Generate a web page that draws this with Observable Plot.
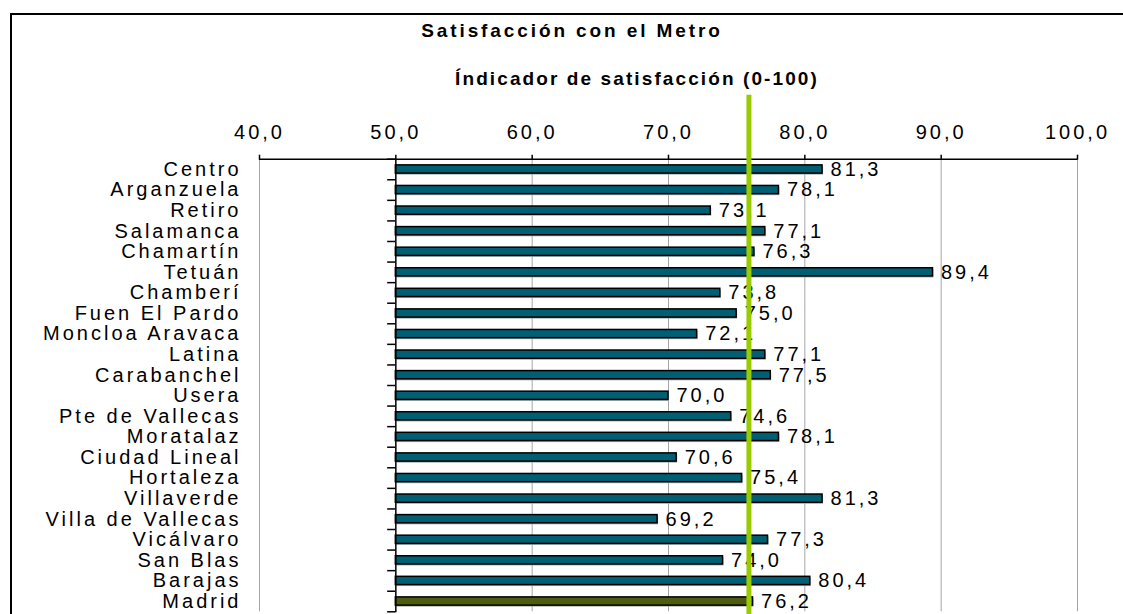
<!DOCTYPE html>
<html><head><meta charset="utf-8">
<script src="https://cdn.jsdelivr.net/npm/d3@7"></script>
<script src="https://cdn.jsdelivr.net/npm/@observablehq/plot@0.6"></script>
<style>
body{margin:0;background:#fff;}
#wrap{position:relative;width:1123px;height:614px;overflow:hidden;font-family:"Liberation Sans",Arial,sans-serif;}
#chart{position:absolute;left:0;top:0;}
#frame{position:absolute;left:10px;top:13px;right:-10px;bottom:-10px;border-top:2.5px solid #000;border-left:2.5px solid #000;pointer-events:none;}
.t{position:absolute;left:0;text-align:center;font-weight:bold;font-size:19px;line-height:19px;color:#000;white-space:nowrap;}
#chart svg text{letter-spacing:3px;}
</style></head><body>
<div id="wrap"><div id="chart"></div><div id="frame"></div>
<div class="t" id="title" style="width:1144px;top:21px;letter-spacing:2.9px">Satisfacción con el Metro</div>
<div class="t" id="sub" style="width:1274px;top:69px;letter-spacing:2.1px">Índicador de satisfacción (0-100)</div>
</div>
<script>
const districts = ["Centro","Arganzuela","Retiro","Salamanca","Chamartín","Tetuán","Chamberí","Fuen El Pardo","Moncloa Aravaca","Latina","Carabanchel","Usera","Pte de Vallecas","Moratalaz","Ciudad Lineal","Hortaleza","Villaverde","Villa de Vallecas","Vicálvaro","San Blas","Barajas","Madrid"];
const values = [81.3,78.1,73.1,77.1,76.3,89.4,73.8,75.0,72.1,77.1,77.5,70.0,74.6,78.1,70.6,75.4,81.3,69.2,77.3,74.0,80.4,76.2];
const xTicks = [40,50,60,70,80,90,100];
const gridTicks = [40,60,70,80,90,100];
const base = 50;
const lineaReferencia = 75.9;

const rows = districts.map((d,i)=>({d, i, v: values[i], madrid: d === "Madrid"}));
const boundaries = d3.range(districts.length + 1).map(k => k - 0.5);
const fmt = v => v.toFixed(1).replace(".", ",");

const chart = Plot.plot({
  width: 1123, height: 614,
  marginTop: 158.7, marginBottom: 2.7, marginLeft: 259, marginRight: 46,
  x: {domain: [40, 100], label: null},
  y: {domain: [-0.5, districts.length - 0.5], reverse: true, label: null},
  style: {fontFamily: '"Liberation Sans", Arial, sans-serif', fontSize: "20px", color: "#000", background: "transparent", overflow: "visible"},
  marks: [
    Plot.ruleX(gridTicks, {stroke: "#a6a6a6", strokeWidth: 1}),
    Plot.rect(rows, {x1: base, x2: "v", y1: d => d.i - 0.2, y2: d => d.i + 0.2, fill: "#a8a8a8", dx: 1, dy: 1.5}),
    Plot.rect(rows, {x1: base, x2: "v", y1: d => d.i - 0.2, y2: d => d.i + 0.2, fill: d => d.madrid ? "#4d5c0e" : "#005f73", stroke: "#000", strokeWidth: 1.5}),
    Plot.ruleX([base], {stroke: "#000", strokeWidth: 1.5, insetBottom: -1}),
    Plot.ruleY(boundaries, {x1: base - 0.6, x2: base, stroke: "#000", strokeWidth: 1.5}),
    Plot.ruleY([-0.5], {stroke: "#000", strokeWidth: 1.5}),
    Plot.axisX({anchor: "top", ticks: xTicks, tickFormat: fmt, tickSize: 5, tickPadding: 15, strokeWidth: 1.5, label: null}),
    Plot.axisY({ticks: rows.map(d => d.i), tickFormat: i => districts[i], tickSize: 0, tickPadding: 18, label: null}),
    Plot.text(rows, {x: "v", y: "i", text: d => fmt(d.v), textAnchor: "start", dx: 8}),
    Plot.ruleX([lineaReferencia], {stroke: "#99cc00", strokeWidth: 5, insetTop: -64, insetBottom: -5})
  ]
});
document.getElementById("chart").appendChild(chart);
</script>
</body></html>
